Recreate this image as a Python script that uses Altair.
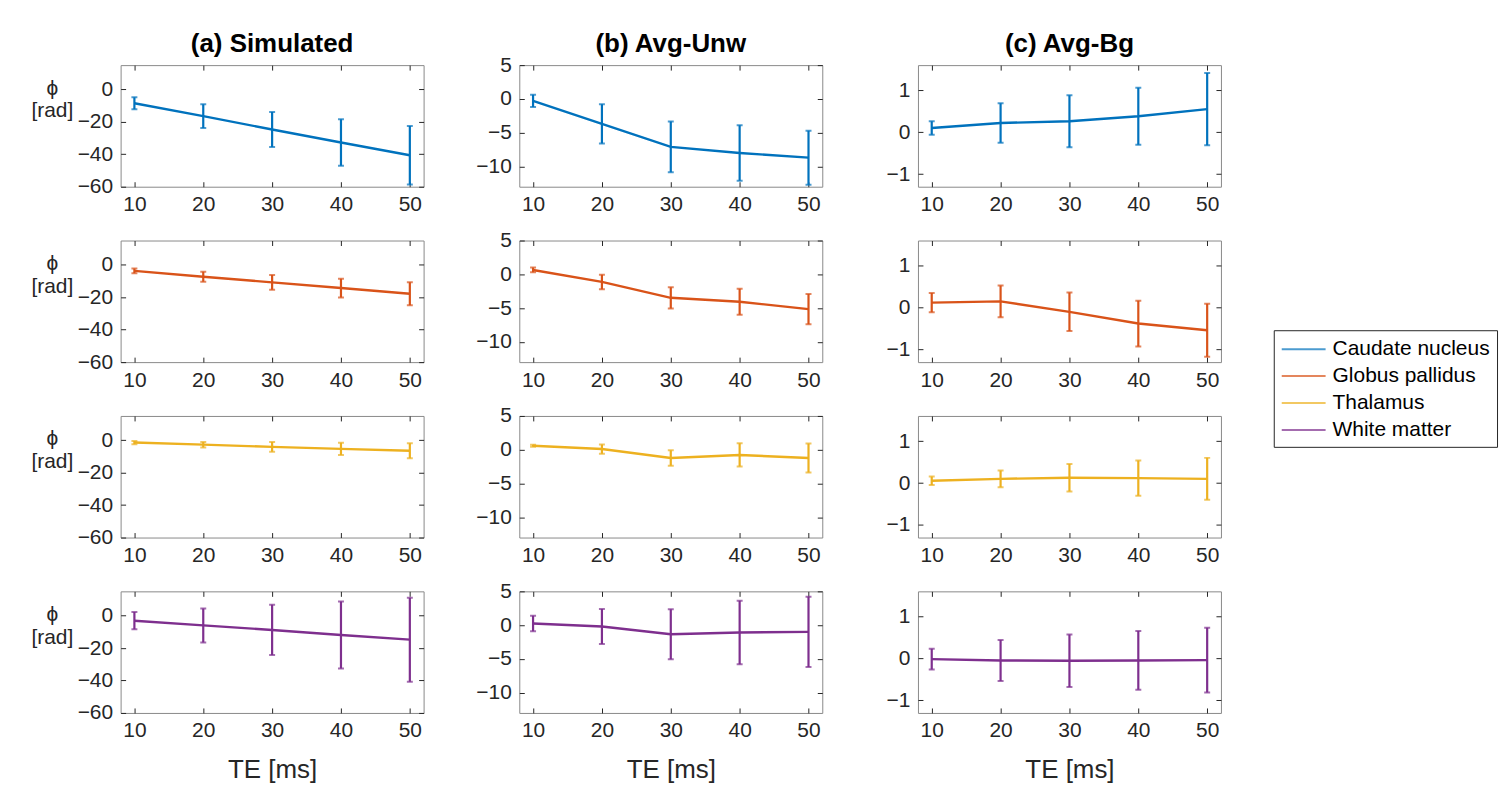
import altair as alt
import pandas as pd

te = [10, 20, 30, 40, 50]
regions = ["Caudate nucleus", "Globus pallidus", "Thalamus", "White matter"]
colors = ["#0072BD", "#D95319", "#EDB120", "#7E2F8E"]
methods = ["(a) Simulated", "(b) Avg-Unw", "(c) Avg-Bg"]

# (a) Simulated: mean and error half-width per region
sim_cn = [-8.5, -16.5, -24.7, -32.7, -40.6]
sim_cn_err = [3.7, 7.3, 10.8, 14.3, 18.0]
sim_gp = [-3.7, -7.3, -10.8, -14.3, -17.8]
sim_gp_err = [1.45, 3.1, 4.5, 5.8, 7.1]
sim_th = [-1.4, -2.7, -4.1, -5.3, -6.5]
sim_th_err = [1.0, 1.7, 3.0, 3.8, 4.6]
sim_wm = [-3.1, -6.0, -8.8, -11.9, -14.8]
sim_wm_err = [5.3, 10.5, 15.5, 20.7, 25.9]

# (b) Avg-Unw
unw_cn = [-0.3, -3.7, -7.1, -8.0, -8.7]
unw_cn_err = [0.9, 2.9, 3.75, 4.1, 4.0]
unw_gp = [0.64, -1.13, -3.48, -4.07, -5.15]
unw_gp_err = [0.35, 1.08, 1.57, 1.93, 2.23]
unw_th = [0.59, 0.1, -1.23, -0.78, -1.23]
unw_th_err = [0.15, 0.68, 1.15, 1.72, 2.16]
unw_wm = [0.25, -0.2, -1.34, -1.09, -1.0]
unw_wm_err = [1.14, 2.6, 3.7, 4.7, 5.2]

# (c) Avg-Bg
bg_cn = [0.1, 0.22, 0.26, 0.38, 0.55]
bg_cn_err = [0.16, 0.47, 0.62, 0.68, 0.86]
bg_gp = [0.12, 0.15, -0.10, -0.38, -0.54]
bg_gp_err = [0.23, 0.38, 0.46, 0.545, 0.63]
bg_th = [0.055, 0.1, 0.126, 0.118, 0.1]
bg_th_err = [0.1, 0.2, 0.33, 0.42, 0.5]
bg_wm = [-0.016, -0.048, -0.056, -0.048, -0.04]
bg_wm_err = [0.245, 0.49, 0.625, 0.7, 0.77]

series = [
    [(sim_cn, sim_cn_err), (sim_gp, sim_gp_err), (sim_th, sim_th_err), (sim_wm, sim_wm_err)],
    [(unw_cn, unw_cn_err), (unw_gp, unw_gp_err), (unw_th, unw_th_err), (unw_wm, unw_wm_err)],
    [(bg_cn, bg_cn_err), (bg_gp, bg_gp_err), (bg_th, bg_th_err), (bg_wm, bg_wm_err)],
]

y_domains = [[-60, 15], [-13, 5], [-1.3, 1.6]]
y_ticks = [[-60, -40, -20, 0], [-10, -5, 0, 5], [-1, 0, 1]]
x_domain = [8, 52]
title_offsets = [8, -2.5, 8]

FONT = "Liberation Sans"
TXT = "#262626"

color_enc = alt.Color(
    "region:N",
    scale=alt.Scale(domain=regions, range=colors),
    legend=alt.Legend(
        title=None, orient="none", legendX=1157, legendY=266,
        symbolType="M-1,0H3", symbolSize=484, symbolStrokeWidth=2,
        labelFontSize=21, labelFont=FONT, labelColor="black",
        strokeColor=TXT, fillColor="white", padding=7, rowPadding=5,
        labelOffset=28, labelLimit=300,
    ),
)


def panel(m, r):
    mean, err = series[m][r]
    df = pd.DataFrame({
        "TE": te,
        "mean": mean,
        "lo": [a - b for a, b in zip(mean, err)],
        "hi": [a + b for a, b in zip(mean, err)],
        "region": regions[r],
    })
    xs = alt.Scale(domain=x_domain, nice=False, zero=False)
    ys = alt.Scale(domain=y_domains[m], nice=False, zero=False)
    bottom = r == 3
    xaxis = alt.Axis(
        orient="bottom", values=te, offset=-5, tickSize=5, domain=False,
        labelPadding=7, title="TE [ms]" if bottom else None,
        titleFontSize=26, titleFontWeight="normal", titlePadding=16,
    )
    yaxis_kw = dict(
        orient="left", values=y_ticks[m], offset=-5, tickSize=5, domain=False,
        labelPadding=8,
    )
    if m == 0:
        yaxis = alt.Axis(
            title=["ϕ", "[rad]"], titleAngle=0, titleAlign="center",
            titleBaseline="alphabetic", titleX=-74, titleY=29,
            titleFontSize=21, titleFontWeight="normal", titleLineHeight=23,
            **yaxis_kw,
        )
    else:
        yaxis = alt.Axis(title=None, **yaxis_kw)
    base = alt.Chart(df)
    line = base.mark_line(strokeWidth=2.4, clip=True).encode(
        x=alt.X("TE:Q", scale=xs, axis=xaxis),
        y=alt.Y("mean:Q", scale=ys, axis=yaxis),
        color=color_enc,
    )
    bars = base.mark_rule(strokeWidth=2.2, clip=True).encode(
        x=alt.X("TE:Q", scale=xs, axis=alt.Axis(orient="top", values=te, offset=-5, tickSize=5,
                                               domain=False, labels=False, title=None)),
        y=alt.Y("lo:Q", scale=ys, axis=alt.Axis(orient="right", values=y_ticks[m], offset=-5,
                                               tickSize=5, domain=False, labels=False, title=None)),
        y2="hi:Q",
        color=color_enc,
    )
    cap_lo = base.mark_tick(orient="horizontal", size=6, thickness=2, clip=True).encode(
        x=alt.X("TE:Q", scale=xs, axis=None),
        y=alt.Y("lo:Q", scale=ys, axis=None),
        color=color_enc,
    )
    cap_hi = base.mark_tick(orient="horizontal", size=6, thickness=2, clip=True).encode(
        x=alt.X("TE:Q", scale=xs, axis=None),
        y=alt.Y("hi:Q", scale=ys, axis=None),
        color=color_enc,
    )
    ch = alt.layer(line, bars, cap_lo, cap_hi).resolve_axis(x="independent", y="independent")
    props = dict(width=304, height=122)
    if r == 0:
        props["title"] = alt.Title(methods[m], fontSize=26, fontWeight="bold", font=FONT,
                                   color="black", offset=title_offsets[m])
    return ch.properties(**props)


panels = [panel(m, r) for r in range(4) for m in range(3)]

chart = alt.ConcatChart(
    concat=panels, columns=3, bounds="flush", align="each",
    spacing={"row": 54, "column": 96},
).properties(
    padding={"left": 22, "top": 21, "right": 5, "bottom": 5},
).configure_view(
    stroke="#8a8a8a", strokeWidth=1
).configure_axis(
    labelFont=FONT, titleFont=FONT, labelFontSize=21, labelColor=TXT, titleColor=TXT,
    tickColor=TXT, tickWidth=1, grid=False,
)

chart.save("out.html", embed_options={"renderer": "svg", "actions": False})
